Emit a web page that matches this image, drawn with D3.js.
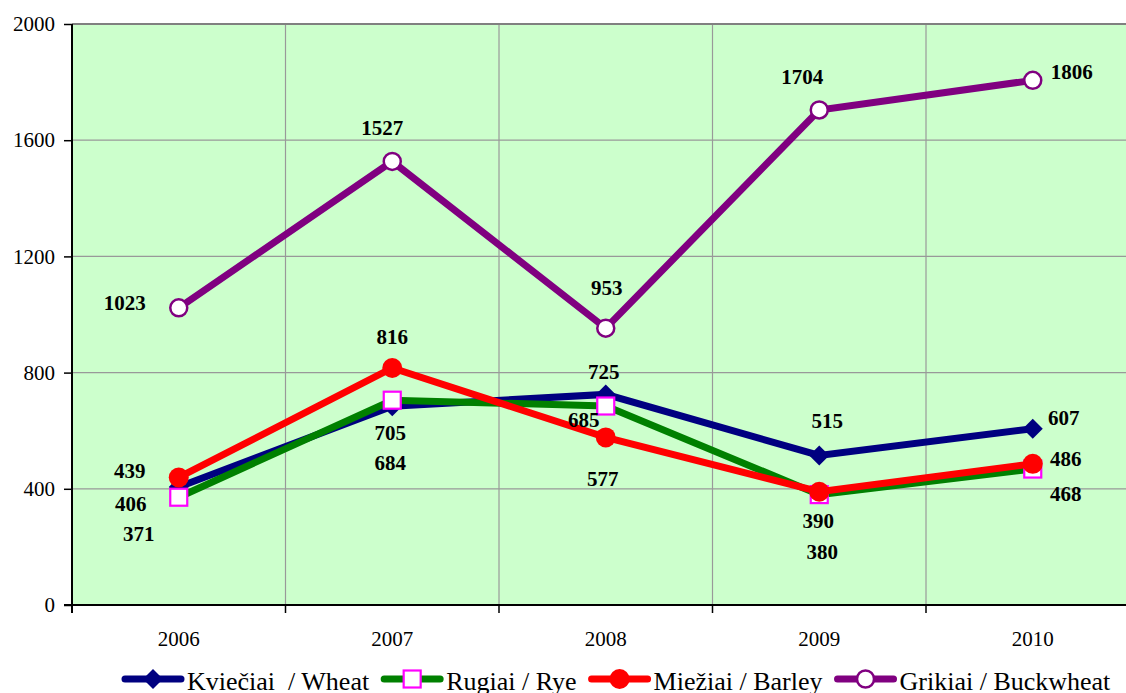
<!DOCTYPE html>
<html lang="lt">
<head>
  <meta charset="utf-8">
  <title>Grain prices 2006-2010</title>
  <script src="https://d3js.org/d3.v7.min.js"></script>
  <style>
    body { margin: 0; background: #fff; }
    svg { display: block; font-family: "Liberation Serif", "Times New Roman", serif; }
  </style>
</head>
<body>
<script>
// chart values
var years = ["2006", "2007", "2008", "2009", "2010"];
var wheat = [406, 684, 725, 515, 607];
var rye = [371, 705, 685, 380, 468];
var barley = [439, 816, 577, 390, 486];
var buckwheat = [1023, 1527, 953, 1704, 1806];
var yTicks = [0, 400, 800, 1200, 1600, 2000];
var seriesNames = ["Kviečiai  / Wheat", "Rugiai / Rye", "Miežiai / Barley", "Grikiai / Buckwheat"];

// where each value label sits relative to its point (dx, dy of label centre)
var labelOffsets = [
  [[-48, 17], [-2, 56], [-2, -23], [8, -35], [31, -11]],
  [[-40, 36], [-2, 32], [-22, 14], [3, 57], [33, 25]],
  [[-49, -7], [0, -31], [-3, 41], [-1, 29], [33, -5]],
  [[-54, -5], [-10, -34], [1, -41], [-17, -33], [39, -9]]
];

var series = [
  { name: seriesNames[0], values: wheat, color: "#000080", marker: "diamond" },
  { name: seriesNames[1], values: rye, color: "#008000", marker: "square" },
  { name: seriesNames[2], values: barley, color: "#ff0000", marker: "dot" },
  { name: seriesNames[3], values: buckwheat, color: "#800080", marker: "ring" }
];

var W = 1126, H = 693;
// note: "top" is taken by window.top, so plot* names
var plotLeft = 72, plotTop = 24, plotBottom = 605;
var plotRight = plotLeft + 5 * 213.5; // runs past the window edge, like the original

var svg = d3.select("body").append("svg")
  .attr("width", W)
  .attr("height", H);

var x = d3.scaleBand().domain(years).range([plotLeft, plotRight]).padding(0);
var y = d3.scaleLinear().domain([0, 2000]).range([plotBottom, plotTop]);
var cx = function(i) { return x(years[i]) + x.bandwidth() / 2; };

// plot background
svg.append("rect")
  .attr("x", plotLeft).attr("y", plotTop)
  .attr("width", plotRight - plotLeft).attr("height", plotBottom - plotTop)
  .attr("fill", "#ccffcc");

// horizontal grid
svg.selectAll(".hgrid")
  .data(yTicks.filter(function(d) { return d > 0 && d < 2000; }))
  .enter().append("line")
  .attr("x1", plotLeft).attr("x2", plotRight)
  .attr("y1", function(d) { return y(d); }).attr("y2", function(d) { return y(d); })
  .attr("stroke", "#999").attr("stroke-width", 1.2);

// vertical grid at category boundaries
svg.selectAll(".vgrid")
  .data(years.slice(1))
  .enter().append("line")
  .attr("x1", function(d) { return x(d); }).attr("x2", function(d) { return x(d); })
  .attr("y1", plotTop).attr("y2", plotBottom)
  .attr("stroke", "#999").attr("stroke-width", 1.2);

// top border
svg.append("line")
  .attr("x1", plotLeft).attr("x2", plotRight)
  .attr("y1", y(2000)).attr("y2", y(2000))
  .attr("stroke", "#808080").attr("stroke-width", 2);

// y axis
var yAxis = svg.append("g")
  .attr("transform", "translate(" + plotLeft + ",0)")
  .call(d3.axisLeft(y).tickValues(yTicks).tickSize(8).tickPadding(9).tickFormat(d3.format("d")));
yAxis.select(".domain").attr("stroke", "#000").attr("stroke-width", 2)
  .attr("d", "M0," + plotTop + "V" + (plotBottom + 8));
yAxis.selectAll(".tick line").attr("stroke", "#000").attr("stroke-width", 1.5);
yAxis.selectAll(".tick text")
  .attr("font-family", "Liberation Serif, serif")
  .attr("font-size", 21).attr("fill", "#000");

// x axis: labels at centres, ticks at boundaries
var xAxis = svg.append("g")
  .attr("transform", "translate(0," + plotBottom + ")")
  .call(d3.axisBottom(x).tickSize(0).tickPadding(26));
xAxis.select(".domain").attr("stroke", "#000").attr("stroke-width", 2)
  .attr("d", "M" + (plotLeft - 8) + ",0H" + plotRight);
xAxis.selectAll(".tick text")
  .attr("font-family", "Liberation Serif, serif")
  .attr("font-size", 21).attr("fill", "#000");
xAxis.selectAll(".bound")
  .data(years.slice(1))
  .enter().append("line")
  .attr("x1", function(d) { return x(d); }).attr("x2", function(d) { return x(d); })
  .attr("y1", 0).attr("y2", 8)
  .attr("stroke", "#000").attr("stroke-width", 1.5);

function drawMarker(g, type, color) {
  if (type === "diamond") {
    g.append("path").attr("d", "M0,-10L10,0L0,10L-10,0Z").attr("fill", color);
  } else if (type === "square") {
    g.append("rect").attr("x", -8.5).attr("y", -8.5).attr("width", 17).attr("height", 17)
      .attr("fill", "#fff").attr("stroke", "#ff00ff").attr("stroke-width", 2.2);
  } else if (type === "dot") {
    g.append("circle").attr("r", 10).attr("fill", color);
  } else {
    g.append("circle").attr("r", 8.5).attr("fill", "#fff")
      .attr("stroke", color).attr("stroke-width", 2.5);
  }
}

var line = d3.line()
  .x(function(d, i) { return cx(i); })
  .y(function(d) { return y(d); });

series.forEach(function(s) {
  svg.append("path")
    .datum(s.values)
    .attr("d", line)
    .attr("fill", "none")
    .attr("stroke", s.color)
    .attr("stroke-width", 7)
    .attr("stroke-linejoin", "miter");
  s.values.forEach(function(v, i) {
    var g = svg.append("g").attr("transform", "translate(" + cx(i) + "," + y(v) + ")");
    drawMarker(g, s.marker, s.color);
  });
});

// value labels
series.forEach(function(s, si) {
  svg.selectAll(".lbl" + si)
    .data(s.values)
    .enter().append("text")
    .attr("x", function(d, i) { return cx(i) + labelOffsets[si][i][0]; })
    .attr("y", function(d, i) { return y(d) + labelOffsets[si][i][1]; })
    .attr("dy", "0.35em")
    .attr("text-anchor", "middle")
    .attr("font-size", 21)
    .attr("font-weight", "bold")
    .attr("fill", "#000")
    .text(function(d) { return d; });
});

// legend
var lx = 122, ly = 679;
series.forEach(function(s) {
  var g = svg.append("g").attr("transform", "translate(" + lx + "," + ly + ")");
  g.append("line")
    .attr("x1", 3).attr("x2", 59).attr("y1", 0).attr("y2", 0)
    .attr("stroke", s.color).attr("stroke-width", 7).attr("stroke-linecap", "round");
  var m = g.append("g").attr("transform", "translate(31,0)");
  drawMarker(m, s.marker, s.color);
  var t = g.append("text")
    .attr("x", 65).attr("y", 11)
    .attr("font-size", 26)
    .attr("fill", "#000")
    .attr("xml:space", "preserve")
    .style("white-space", "pre")
    .text(s.name);
  lx += 65 + t.node().getComputedTextLength() + 12;
});
</script>
</body>
</html>
